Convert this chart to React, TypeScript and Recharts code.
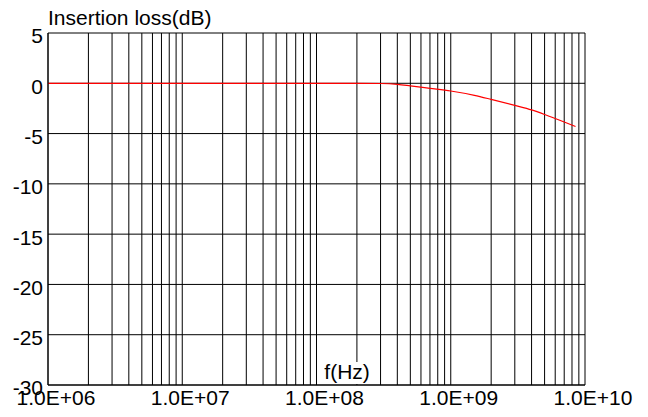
import React from 'react';
import { LineChart, Line, XAxis, YAxis, CartesianGrid } from 'recharts';

// frequency (Hz) vs insertion loss (dB)
const FREQS = [1e6, 1e7, 1e8, 2e8, 3e8, 4e8, 5e8, 7e8, 1e9, 1.5e9, 2e9, 3e9, 4e9, 5e9, 6e9, 7e9, 8.5e9];
const LOSS = [0, 0, 0, 0, -0.02, -0.1, -0.25, -0.5, -0.77, -1.2, -1.6, -2.2, -2.65, -3.1, -3.5, -3.85, -4.3];

const DECADES = [6, 7, 8, 9];
const MULTS = [1, 2, 3, 4, 5, 6, 7, 8, 9];
const Y_TICKS = [5, 0, -5, -10, -15, -20, -25, -30];

const X_TICKS: number[] = [];
DECADES.forEach(d => MULTS.forEach(m => X_TICKS.push(m * Math.pow(10, d))));
X_TICKS.push(1e10);

const data = FREQS.map((f, i) => ({ f, loss: LOSS[i] }));

const FONT = '"Liberation Sans", Arial, sans-serif';
const FS = 21;

const isDecade = (v: number) => {
  const l = Math.log10(v);
  return Math.abs(l - Math.round(l)) < 1e-9;
};

const fmtTick = (v: number) => {
  if (!isDecade(v)) return '';
  const e = Math.round(Math.log10(v));
  return `1.0E+${String(e).padStart(2, '0')}`;
};

const XTick = ({ x, y, payload }: any) => {
  const s = fmtTick(payload.value);
  if (!s) return null;
  return (
    <text x={x + 8} y={y} dy="0.71em" textAnchor="middle" fontSize={FS} fontFamily={FONT} fill="#000">
      {s}
    </text>
  );
};

const YTick = ({ x, y, payload }: any) => (
  <text x={x} y={y + 3} dy="0.355em" textAnchor="end" fontSize={FS} fontFamily={FONT} fill="#000">
    {payload.value}
  </text>
);

// x-axis title sits inside the plot with a white box behind it
const FreqLabel = ({ viewBox }: any) => {
  const cx = viewBox.x + viewBox.width * 0.557;
  const bottom = viewBox.y;
  return (
    <g>
      <rect x={cx - 26} y={bottom - 23} width={52} height={22} fill="#fff" />
      <text x={cx} y={bottom - 6} textAnchor="middle" fontSize={FS} fontFamily={FONT} fill="#000">
        f(Hz)
      </text>
    </g>
  );
};

const TitleLabel = ({ viewBox }: any) => (
  <text x={viewBox.x + viewBox.width} y={viewBox.y - 8} fontSize={FS} fontFamily={FONT} fill="#000">
    Insertion loss(dB)
  </text>
);

export default function App() {
  return (
    <div style={{ position: 'absolute', left: 0, top: 0, background: '#fff' }}>
      <LineChart width={648} height={417} data={data} margin={{ top: 33, right: 63, left: 0, bottom: 0 }}>
        <CartesianGrid stroke="#000" strokeWidth={1} />
        <XAxis
          dataKey="f"
          type="number"
          scale="log"
          domain={[1e6, 1e10]}
          ticks={X_TICKS}
          interval={0}
          allowDataOverflow
          tickLine={false}
          tickSize={0}
          tickMargin={5}
          height={32}
          axisLine={{ stroke: '#000' }}
          tick={<XTick />}
          label={<FreqLabel />}
        />
        <YAxis
          type="number"
          domain={[-30, 5]}
          ticks={Y_TICKS}
          interval={0}
          width={48}
          tickLine={false}
          tickSize={0}
          tickMargin={5}
          axisLine={{ stroke: '#000' }}
          tick={<YTick />}
          label={<TitleLabel />}
        />
        <Line
          type="monotone"
          dataKey="loss"
          stroke="#ff0000"
          strokeWidth={1.2}
          dot={false}
          isAnimationActive={false}
        />
      </LineChart>
    </div>
  );
}
